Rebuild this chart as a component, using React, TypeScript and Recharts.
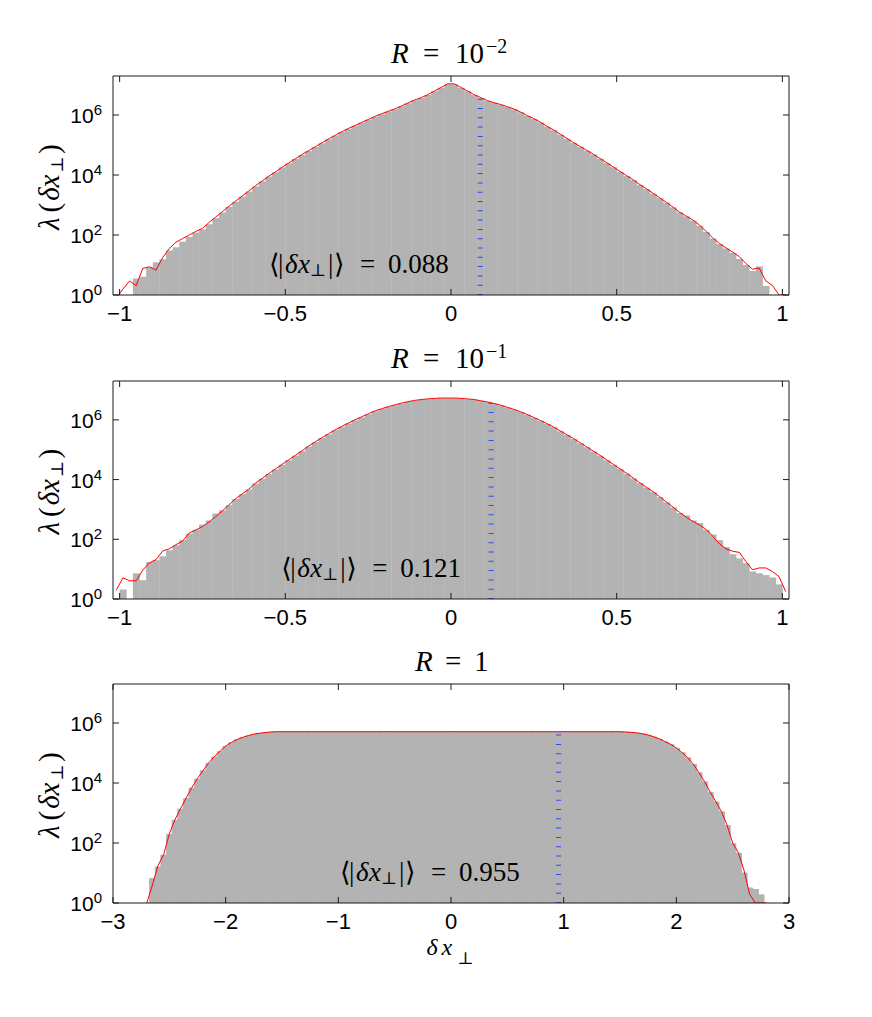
import React from 'react';
import { ComposedChart, Bar, Line, XAxis, YAxis, ReferenceLine, ReferenceDot } from 'recharts';

const SANS = '"Liberation Sans", Arial, sans-serif';
const SERIF = '"Liberation Serif", "DejaVu Serif", serif';
const AXIS = '#1a1a1a';
const GRAY = '#b3b3b3';

const yTicks = [1, 1e2, 1e4, 1e6];
const yDomain: [number, number] = [1, 2e7];
const xTicksNarrow = [-1, -0.5, 0, 0.5, 1];
const xTicksWide = [-3, -2, -1, 0, 1, 2, 3];

// bin centres for R = 1e-2 and R = 1e-1
const binsNarrow = [
  -1.01, -0.99, -0.97, -0.95, -0.93, -0.91, -0.89, -0.87, -0.85, -0.83,
  -0.81, -0.79, -0.77, -0.75, -0.73, -0.71, -0.69, -0.67, -0.65, -0.63,
  -0.61, -0.59, -0.57, -0.55, -0.53, -0.51, -0.49, -0.47, -0.45, -0.43,
  -0.41, -0.39, -0.37, -0.35, -0.33, -0.31, -0.29, -0.27, -0.25, -0.23,
  -0.21, -0.19, -0.17, -0.15, -0.13, -0.11, -0.09, -0.07, -0.05, -0.03,
  -0.01, 0.01, 0.03, 0.05, 0.07, 0.09, 0.11, 0.13, 0.15, 0.17,
  0.19, 0.21, 0.23, 0.25, 0.27, 0.29, 0.31, 0.33, 0.35, 0.37,
  0.39, 0.41, 0.43, 0.45, 0.47, 0.49, 0.51, 0.53, 0.55, 0.57,
  0.59, 0.61, 0.63, 0.65, 0.67, 0.69, 0.71, 0.73, 0.75, 0.77,
  0.79, 0.81, 0.83, 0.85, 0.87, 0.89, 0.91, 0.93, 0.95, 0.97,
  0.99, 1.01,
];

// log10 of counts
const fitLog1 = [
  -0.1, 0.2, 0.47, 0.31, 0.89, 0.94, 0.83, 1.25, 1.55, 1.76,
  1.88, 2.0, 2.12, 2.22, 2.42, 2.6, 2.78, 2.96, 3.13, 3.3,
  3.47, 3.64, 3.8, 3.96, 4.1, 4.26, 4.4, 4.54, 4.68, 4.81,
  4.94, 5.07, 5.2, 5.32, 5.44, 5.55, 5.65, 5.75, 5.85, 5.95,
  6.04, 6.12, 6.2, 6.3, 6.4, 6.5, 6.58, 6.68, 6.8, 6.92,
  7.04, 7.04, 6.92, 6.8, 6.68, 6.58, 6.48, 6.41, 6.35, 6.28,
  6.2, 6.1, 5.98, 5.88, 5.76, 5.62, 5.5, 5.36, 5.22, 5.08,
  4.95, 4.82, 4.69, 4.55, 4.41, 4.27, 4.12, 3.98, 3.84, 3.68,
  3.54, 3.39, 3.24, 3.09, 2.93, 2.76, 2.63, 2.5, 2.33, 2.12,
  1.9, 1.72, 1.57, 1.43, 1.28, 1.05, 0.86, 0.9, 0.47, 0.32,
  0, 0,
];
const histLog1 = [
  null, null, null, 0.55, 0.61, 0.92, 1.09, 1.19, 1.48, 1.59,
  1.78, 1.94, 2.08, 2.19, 2.36, 2.56, 2.75, 2.94, 3.11, 3.28,
  3.45, 3.62, 3.79, 3.95, 4.09, 4.25, 4.39, 4.53, 4.67, 4.8,
  4.93, 5.06, 5.19, 5.31, 5.43, 5.54, 5.64, 5.74, 5.84, 5.94,
  6.03, 6.11, 6.19, 6.29, 6.39, 6.49, 6.57, 6.67, 6.79, 6.91,
  7.03, 7.03, 6.91, 6.79, 6.67, 6.57, 6.47, 6.4, 6.34, 6.27,
  6.19, 6.09, 5.97, 5.87, 5.75, 5.61, 5.49, 5.35, 5.21, 5.07,
  4.94, 4.81, 4.68, 4.54, 4.4, 4.26, 4.11, 3.97, 3.83, 3.67,
  3.53, 3.38, 3.23, 3.08, 2.92, 2.76, 2.62, 2.48, 2.31, 2.1,
  1.88, 1.7, 1.55, 1.4, 1.2, 1.0, 0.8, 0.95, 0.3, null,
  null, null,
];

const fitLog2 = [
  0.3, 0.71, 0.61, 0.61, 0.97, 1.21, 1.32, 1.61, 1.68, 1.82,
  1.94, 2.21, 2.31, 2.43, 2.58, 2.76, 2.95, 3.15, 3.36, 3.52,
  3.68, 3.88, 4.04, 4.2, 4.35, 4.51, 4.66, 4.81, 4.96, 5.12,
  5.26, 5.4, 5.53, 5.66, 5.78, 5.89, 6.0, 6.1, 6.2, 6.3,
  6.37, 6.44, 6.5, 6.56, 6.61, 6.65, 6.68, 6.7, 6.72, 6.73,
  6.73, 6.73, 6.72, 6.7, 6.68, 6.64, 6.6, 6.55, 6.49, 6.42,
  6.35, 6.27, 6.18, 6.08, 5.98, 5.87, 5.76, 5.63, 5.5, 5.37,
  5.23, 5.09, 4.95, 4.81, 4.66, 4.51, 4.36, 4.21, 4.05, 3.89,
  3.74, 3.59, 3.42, 3.25, 3.08, 2.9, 2.74, 2.6, 2.48, 2.33,
  2.1, 1.85, 1.68, 1.6, 1.56, 1.25, 0.98, 1.04, 1.04, 0.92,
  0.75, 0.25,
];
const histLog2 = [
  null, 0.32, null, 0.86, 0.63, 1.24, 1.3, 1.43, 1.63, 1.8,
  1.97, 2.19, 2.32, 2.49, 2.63, 2.86, 2.97, 3.14, 3.35, 3.51,
  3.67, 3.87, 4.03, 4.19, 4.34, 4.5, 4.65, 4.8, 4.95, 5.11,
  5.25, 5.39, 5.52, 5.65, 5.77, 5.88, 5.99, 6.09, 6.19, 6.29,
  6.36, 6.43, 6.49, 6.55, 6.6, 6.64, 6.67, 6.69, 6.71, 6.72,
  6.72, 6.72, 6.71, 6.69, 6.67, 6.63, 6.59, 6.54, 6.48, 6.41,
  6.34, 6.26, 6.17, 6.07, 5.97, 5.86, 5.75, 5.62, 5.49, 5.36,
  5.22, 5.08, 4.94, 4.8, 4.65, 4.5, 4.35, 4.2, 4.04, 3.88,
  3.73, 3.58, 3.41, 3.24, 3.07, 2.88, 2.8, 2.63, 2.54, 2.32,
  2.16, 1.97, 1.74, 1.5, 1.36, 1.2, 0.92, 0.86, 0.8, 0.72,
  0.49, null,
];

// bin centres for R = 1
const binsWide = [
  -2.7, -2.65, -2.6, -2.55, -2.5, -2.45, -2.4, -2.35, -2.3, -2.25,
  -2.2, -2.15, -2.1, -2.05, -2.0, -1.95, -1.9, -1.85, -1.8, -1.75,
  -1.7, -1.65, -1.6, -1.55, -1.5, -1.45, -1.4, -1.35, -1.3, -1.25,
  -1.2, -1.15, -1.1, -1.05, -1.0, -0.95, -0.9, -0.85, -0.8, -0.75,
  -0.7, -0.65, -0.6, -0.55, -0.5, -0.45, -0.4, -0.35, -0.3, -0.25,
  -0.2, -0.15, -0.1, -0.05, 0, 0.05, 0.1, 0.15, 0.2, 0.25,
  0.3, 0.35, 0.4, 0.45, 0.5, 0.55, 0.6, 0.65, 0.7, 0.75,
  0.8, 0.85, 0.9, 0.95, 1.0, 1.05, 1.1, 1.15, 1.2, 1.25,
  1.3, 1.35, 1.4, 1.45, 1.5, 1.55, 1.6, 1.65, 1.7, 1.75,
  1.8, 1.85, 1.9, 1.95, 2.0, 2.05, 2.1, 2.15, 2.2, 2.25,
  2.3, 2.35, 2.4, 2.45, 2.5, 2.55, 2.6, 2.65, 2.7, 2.75,
  2.8,
];
const fitLog3 = [
  0, 0.6, 1.25, 1.62, 2.3, 2.78, 3.15, 3.5, 3.85, 4.15,
  4.42, 4.67, 4.88, 5.06, 5.23, 5.35, 5.45, 5.52, 5.58, 5.63,
  5.66, 5.68, 5.7, 5.71, 5.71, 5.71, 5.71, 5.71, 5.71, 5.71,
  5.71, 5.71, 5.71, 5.71, 5.71, 5.71, 5.71, 5.71, 5.71, 5.71,
  5.71, 5.71, 5.71, 5.71, 5.71, 5.71, 5.71, 5.71, 5.71, 5.71,
  5.71, 5.71, 5.71, 5.71, 5.71, 5.71, 5.71, 5.71, 5.71, 5.71,
  5.71, 5.71, 5.71, 5.71, 5.71, 5.71, 5.71, 5.71, 5.71, 5.71,
  5.71, 5.71, 5.71, 5.71, 5.71, 5.71, 5.71, 5.71, 5.71, 5.71,
  5.71, 5.71, 5.71, 5.71, 5.71, 5.7, 5.69, 5.67, 5.64, 5.6,
  5.54, 5.47, 5.38, 5.29, 5.17, 5.02, 4.85, 4.63, 4.35, 4.05,
  3.7, 3.38, 3.05, 2.6, 2.0, 1.68, 1.1, 0.3, 0, 0,
  0,
];
const histLog3 = [
  null, 0.82, 1.2, 1.6, 2.28, 2.76, 3.13, 3.48, 3.83, 4.13,
  4.41, 4.66, 4.87, 5.05, 5.22, 5.34, 5.44, 5.51, 5.57, 5.62,
  5.65, 5.67, 5.69, 5.7, 5.7, 5.7, 5.7, 5.7, 5.7, 5.7,
  5.7, 5.7, 5.7, 5.7, 5.7, 5.7, 5.7, 5.7, 5.7, 5.7,
  5.7, 5.7, 5.7, 5.7, 5.7, 5.7, 5.7, 5.7, 5.7, 5.7,
  5.7, 5.7, 5.7, 5.7, 5.7, 5.7, 5.7, 5.7, 5.7, 5.7,
  5.7, 5.7, 5.7, 5.7, 5.7, 5.7, 5.7, 5.7, 5.7, 5.7,
  5.7, 5.7, 5.7, 5.7, 5.7, 5.7, 5.7, 5.7, 5.7, 5.7,
  5.7, 5.7, 5.7, 5.7, 5.7, 5.69, 5.68, 5.66, 5.63, 5.59,
  5.53, 5.46, 5.37, 5.28, 5.16, 5.01, 4.84, 4.62, 4.34, 4.04,
  3.69, 3.37, 3.04, 2.58, 1.98, 1.66, 1.0, 0.5, 0.45, 0.27,
  null,
];

const titles = ['\u22122', '\u22121', null];
const meanValues = [0.088, 0.121, 0.955];
const meanLabels = ['0.088', '0.121', '0.955'];
const meanTops = [3.9e6, 3.7e6, 4.3e5];
const noteStarts = [-0.549, -0.512, -0.985];
const NOTE_Y = 5.6;

const minus = (v: number) => (v < 0 ? '\u2212' + String(-v) : String(v));

const BottomTick = (p: any) => (
  <g>
    <line x1={p.x} x2={p.x} y1={p.y} y2={p.y - 6} stroke={AXIS} />
    <text x={p.x} y={p.y + 26} textAnchor="middle" fontFamily={SANS} fontSize={22} fill="#000">
      {minus(p.payload.value)}
    </text>
  </g>
);
const TopTick = (p: any) => <line x1={p.x} x2={p.x} y1={p.y} y2={p.y + 6} stroke={AXIS} />;
const LeftTick = (p: any) => {
  const e = Math.round(Math.log10(p.payload.value));
  return (
    <g>
      <line x1={p.x} x2={p.x + 6} y1={p.y} y2={p.y} stroke={AXIS} />
      <text x={p.x - 11} y={p.y + 8} textAnchor="end" fontFamily={SANS} fontSize={21} fill="#000">
        10<tspan dy={-8} fontSize={15}>{e}</tspan>
      </text>
    </g>
  );
};
const RightTick = (p: any) => <line x1={p.x} x2={p.x - 6} y1={p.y} y2={p.y} stroke={AXIS} />;

const titleContent = (exp: string | null) => (props: any) => {
  const vb = props.viewBox;
  const cx = vb.x + vb.width / 2;
  const y = vb.y + vb.height - 13;
  if (exp) {
    return (
      <text y={y} fontFamily={SERIF} fontSize={29} fill="#000">
        <tspan x={cx - 60} fontStyle="italic">R</tspan>
        <tspan x={cx - 28}>=</tspan>
        <tspan x={cx + 4}>10</tspan>
        <tspan x={cx + 35} dy={-10} fontSize={20}>{exp}</tspan>
      </text>
    );
  }
  return (
    <text y={y} fontFamily={SERIF} fontSize={29} fill="#000">
      <tspan x={cx - 36} fontStyle="italic">R</tspan>
      <tspan x={cx - 6}>=</tspan>
      <tspan x={cx + 23}>1</tspan>
    </text>
  );
};

const yLabelContent = (props: any) => {
  const vb = props.viewBox;
  const bx = vb.x + 6;
  const cy = vb.y + vb.height / 2 + 1;
  return (
    <text transform={`translate(${bx},${cy}) rotate(-90)`} fontFamily={SERIF} fontSize={29} fill="#000">
      <tspan x={-43.5} fontStyle="italic">λ</tspan>
      <tspan x={-26}>(</tspan>
      <tspan x={-14.3} fontStyle="italic">δ</tspan>
      <tspan x={-1} fontStyle="italic">x</tspan>
      <tspan x={14} dy={4} fontSize={17}>⊥</tspan>
      <tspan x={32.4} dy={-4}>)</tspan>
    </text>
  );
};

const xLabelContent = (props: any) => {
  const vb = props.viewBox;
  const cx = vb.x + vb.width / 2;
  const y = vb.y + 52;
  return (
    <text y={y} fontFamily={SERIF} fontSize={24} fill="#000">
      <tspan x={cx - 24.5} fontStyle="italic">δ</tspan>
      <tspan x={cx - 9.5} fontStyle="italic">x</tspan>
      <tspan x={cx + 6.5} dy={9} fontSize={17}>⊥</tspan>
    </text>
  );
};

const noteContent = (text: string) => (props: any) => {
  const vb = props.viewBox;
  const x0 = vb.x + vb.width / 2;
  const y = vb.y + vb.height / 2;
  return (
    <text y={y} fontFamily={SERIF} fontSize={27} fill="#000">
      <tspan x={x0}>⟨</tspan>
      <tspan x={x0 + 9}>|</tspan>
      <tspan x={x0 + 16} fontStyle="italic">δ</tspan>
      <tspan x={x0 + 29} fontStyle="italic">x</tspan>
      <tspan x={x0 + 41} dy={3} fontSize={17}>⊥</tspan>
      <tspan x={x0 + 59} dy={-3}>|</tspan>
      <tspan x={x0 + 65}>⟩</tspan>
      <tspan x={x0 + 91}>=</tspan>
      <tspan x={x0 + 119}>{text}</tspan>
    </text>
  );
};

type PanelProps = {
  index: number;
  top: number;
  height: number;
  xAxisHeight: number;
  bins: number[];
  histLog: (number | null)[];
  fitLog: number[];
  xDomain: [number, number];
  xTicks: number[];
  solid: boolean;
  showXLabel: boolean;
};

function HistPanel(p: PanelProps) {
  const rows = p.bins.map((x, i) => ({
    x,
    hist: p.histLog[i] === null ? null : Math.pow(10, p.histLog[i] as number),
    fit: Math.pow(10, p.fitLog[i]),
  }));
  const i = p.index;
  return (
    <div style={{ position: 'absolute', left: 0, top: p.top }}>
      <ComposedChart
        width={872}
        height={p.height}
        data={rows}
        margin={{ top: 66, right: 82, bottom: 0, left: 53 }}
        barCategoryGap={0}
        barGap={0}
      >
        <Bar
          dataKey="hist"
          fill={GRAY}
          stroke={p.solid ? GRAY : 'none'}
          strokeWidth={p.solid ? 1 : 0}
          isAnimationActive={false}
        />
        <ReferenceLine
          segment={[{ x: meanValues[i], y: 1 }, { x: meanValues[i], y: meanTops[i] }]}
          stroke="#2b4cff"
          strokeWidth={5}
          strokeDasharray="1 8.3"
          ifOverflow="visible"
        />
        <Line
          dataKey="fit"
          type="linear"
          stroke="#ff0000"
          strokeWidth={1}
          dot={false}
          activeDot={false}
          isAnimationActive={false}
        />
        {/* invisible copy so the top and right frame axes get drawn */}
        <Line
          xAxisId="top"
          yAxisId="right"
          dataKey="fit"
          stroke="none"
          dot={false}
          activeDot={false}
          legendType="none"
          isAnimationActive={false}
        />
        <ReferenceDot
          x={noteStarts[i]}
          y={NOTE_Y}
          r={1}
          fill="none"
          stroke="none"
          label={noteContent(meanLabels[i])}
        />
        <XAxis
          dataKey="x"
          type="number"
          domain={p.xDomain}
          ticks={p.xTicks}
          allowDataOverflow
          interval={0}
          height={p.xAxisHeight}
          tickLine={false}
          tickSize={0}
          tickMargin={0}
          stroke={AXIS}
          tick={(t: any) => <BottomTick {...t} />}
          label={p.showXLabel ? xLabelContent : undefined}
        />
        <XAxis
          xAxisId="top"
          dataKey="x"
          orientation="top"
          type="number"
          domain={p.xDomain}
          ticks={p.xTicks}
          allowDataOverflow
          interval={0}
          height={10}
          tickLine={false}
          tickSize={0}
          tickMargin={0}
          stroke={AXIS}
          tick={(t: any) => <TopTick {...t} />}
          label={titleContent(titles[i])}
        />
        <YAxis
          scale="log"
          type="number"
          domain={yDomain}
          ticks={yTicks}
          allowDataOverflow
          interval={0}
          width={60}
          tickLine={false}
          tickSize={0}
          tickMargin={0}
          stroke={AXIS}
          tick={(t: any) => <LeftTick {...t} />}
          label={yLabelContent}
        />
        <YAxis
          yAxisId="right"
          orientation="right"
          scale="log"
          type="number"
          domain={yDomain}
          ticks={yTicks}
          allowDataOverflow
          interval={0}
          width={1}
          tickLine={false}
          tickSize={0}
          tickMargin={0}
          stroke={AXIS}
          tick={(t: any) => <RightTick {...t} />}
        />
      </ComposedChart>
    </div>
  );
}

export default function App() {
  return (
    <div style={{ position: 'relative', width: 872, height: 1017, margin: -8, background: '#fff' }}>
      <HistPanel
        index={0}
        top={0}
        height={345}
        xAxisHeight={50}
        bins={binsNarrow}
        histLog={histLog1}
        fitLog={fitLog1}
        xDomain={[-1.02, 1.02]}
        xTicks={xTicksNarrow}
        solid={false}
        showXLabel={false}
      />
      <HistPanel
        index={1}
        top={305}
        height={344}
        xAxisHeight={50}
        bins={binsNarrow}
        histLog={histLog2}
        fitLog={fitLog2}
        xDomain={[-1.02, 1.02]}
        xTicks={xTicksNarrow}
        solid={false}
        showXLabel={false}
      />
      <HistPanel
        index={2}
        top={608}
        height={409}
        xAxisHeight={114}
        bins={binsWide}
        histLog={histLog3}
        fitLog={fitLog3}
        xDomain={[-3, 3]}
        xTicks={xTicksWide}
        solid={true}
        showXLabel={true}
      />
    </div>
  );
}
